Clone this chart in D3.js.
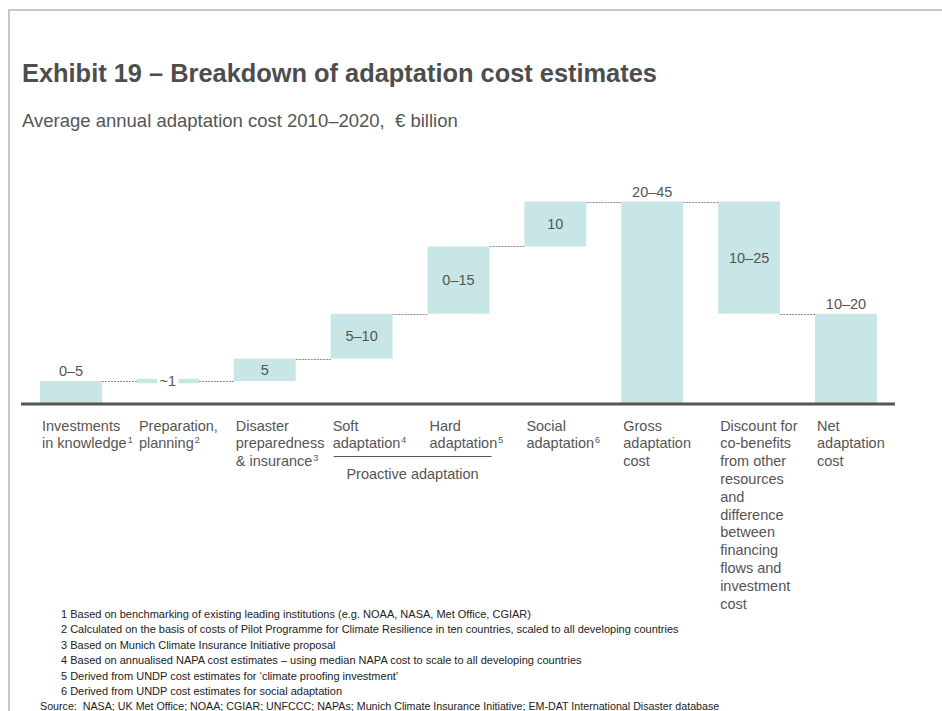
<!DOCTYPE html>
<html>
<head>
<meta charset="utf-8">
<script src="https://cdn.jsdelivr.net/npm/d3@7"></script>
<style>
  html, body { margin: 0; padding: 0; background: #fff; }
  svg { display: block; font-family: "Liberation Sans", Arial, Helvetica, sans-serif; }
  .pre { white-space: pre; }
</style>
</head>
<body>
<svg id="chart" width="942" height="711"></svg>
<script>
// Adaptation cost components, € billion per year (upper end of each range)
const categoryLines = [
  ["Investments", "in knowledge"],
  ["Preparation,", "planning"],
  ["Disaster", "preparedness", "& insurance"],
  ["Soft", "adaptation"],
  ["Hard", "adaptation"],
  ["Social", "adaptation"],
  ["Gross", "adaptation", "cost"],
  ["Discount for", "co-benefits", "from other", "resources", "and", "difference", "between", "financing", "flows and", "investment", "cost"],
  ["Net", "adaptation", "cost"]
];
const noteRefs = ["1", "2", "3", "4", "5", "6", "", "", ""];
const valueLabels = ["0–5", "~1", "5", "5–10", "0–15", "10", "20–45", "10–25", "10–20"];
const barStart = [0, 4.5, 5, 10, 20, 35, 0, 20, 0];
const barValue = [5, 1, 5, 10, 15, 10, 45, 25, 20];
// running level after each step, used for the dashed connectors
const stepLevel = [5, 5, 10, 20, 35, 45, 45, 20];
const groupLabel = "Proactive adaptation";
const groupRange = [3, 4];

const footnotes = [
  "1 Based on benchmarking of existing leading institutions (e.g. NOAA, NASA, Met Office, CGIAR)",
  "2 Calculated on the basis of costs of Pilot Programme for Climate Resilience in ten countries, scaled to all developing countries",
  "3 Based on Munich Climate Insurance Initiative proposal",
  "4 Based on annualised NAPA cost estimates – using median NAPA cost to scale to all developing countries",
  "5 Derived from UNDP cost estimates for ‘climate proofing investment’",
  "6 Derived from UNDP cost estimates for social adaptation"
];
const sourceLine = "Source:  NASA; UK Met Office; NOAA; CGIAR; UNFCCC; NAPAs; Munich Climate Insurance Initiative; EM-DAT International Disaster database";

const svg = d3.select("#chart");
const textColor = "#555";
const barColor = "#c8e6e5";

// page frame
svg.append("rect").attr("x", 8).attr("y", 9).attr("width", 940).attr("height", 2).attr("fill", "#c8c8c8");
svg.append("rect").attr("x", 8).attr("y", 9).attr("width", 2).attr("height", 710).attr("fill", "#c8c8c8");

// headings
svg.append("text").attr("x", 22).attr("y", 82)
  .attr("font-size", 25.4).attr("font-weight", "bold").attr("fill", "#4d4d4d")
  .text("Exhibit 19 – Breakdown of adaptation cost estimates");
svg.append("text").attr("class", "pre").attr("x", 22).attr("y", 127)
  .attr("font-size", 18.5).attr("fill", textColor)
  .text("Average annual adaptation cost 2010–2020,  € billion");

// scales
const idx = d3.range(categoryLines.length);
const x = d3.scaleBand().domain(idx).range([40, 877]).paddingInner(0.36).paddingOuter(0);
const y = d3.scaleLinear().domain([0, 45]).range([403.5, 201.5]);

const g = svg.append("g");

// connectors
g.selectAll("line.conn").data(stepLevel).join("line")
  .attr("class", "conn")
  .attr("x1", (d, i) => x(i) + x.bandwidth())
  .attr("x2", (d, i) => x(i + 1))
  .attr("y1", d => Math.round(y(d)) + 0.5)
  .attr("y2", d => Math.round(y(d)) + 0.5)
  .attr("stroke", "#8a8a8a").attr("stroke-width", 1).attr("stroke-dasharray", "2,1");

// bars
g.selectAll("rect.bar").data(idx).join("rect")
  .attr("class", "bar")
  .attr("x", i => x(i))
  .attr("width", x.bandwidth())
  .attr("y", i => y(barStart[i] + barValue[i]))
  .attr("height", i => y(barStart[i]) - y(barStart[i] + barValue[i]))
  .attr("fill", barColor);

// axis baseline
g.append("line").attr("x1", 21).attr("x2", 895).attr("y1", 404).attr("y2", 404)
  .attr("stroke", "#555").attr("stroke-width", 3);

// value labels: bars starting at zero are labelled above, floating ones inside
idx.forEach(i => {
  const cx = x(i) + x.bandwidth() / 2;
  const top = y(barStart[i] + barValue[i]);
  const bottom = y(barStart[i]);
  if (barStart[i] === 0) {
    g.append("text").attr("x", cx).attr("y", top - 5)
      .attr("text-anchor", "middle").attr("font-size", 14.5).attr("fill", textColor)
      .text(valueLabels[i]);
  } else {
    const t = g.append("text").attr("x", cx).attr("y", (top + bottom) / 2 + 5.2)
      .attr("text-anchor", "middle").attr("font-size", 14.5).attr("fill", textColor)
      .text(valueLabels[i]);
    if (bottom - top < 8) {
      const bb = t.node().getBBox();
      g.insert("rect", () => t.node())
        .attr("x", bb.x - 2.5).attr("y", bb.y).attr("width", bb.width + 5).attr("height", bb.height)
        .attr("fill", "#fff");
    }
  }
});

// category labels
idx.forEach(i => {
  const lines = categoryLines[i];
  lines.forEach((line, k) => {
    const t = g.append("text")
      .attr("x", x(i) + 2).attr("y", 430.5 + k * 17.8)
      .attr("font-size", 14.5).attr("fill", textColor)
      .text(line);
    if (k === lines.length - 1 && noteRefs[i]) {
      t.append("tspan").attr("font-size", 9).attr("dy", -5.5).attr("dx", 1).text(noteRefs[i]);
    }
  });
});

// grouping bracket
const gx1 = x(groupRange[0]) + 3;
const gx2 = x(groupRange[1]) + x.bandwidth() + 2;
g.append("line").attr("x1", gx1).attr("x2", gx2).attr("y1", 456.5).attr("y2", 456.5)
  .attr("stroke", "#555").attr("stroke-width", 1);
g.append("text").attr("x", (gx1 + gx2) / 2).attr("y", 479)
  .attr("text-anchor", "middle").attr("font-size", 14.5).attr("fill", textColor)
  .text(groupLabel);

// footnotes
footnotes.forEach((f, k) => {
  svg.append("text").attr("x", 61).attr("y", 618 + k * 15.4)
    .attr("font-size", 11).attr("fill", "#222").text(f);
});
svg.append("text").attr("class", "pre").attr("x", 40).attr("y", 618 + 6 * 15.4)
  .attr("font-size", 10.7).attr("fill", "#222").text(sourceLine);
</script>
</body>
</html>
